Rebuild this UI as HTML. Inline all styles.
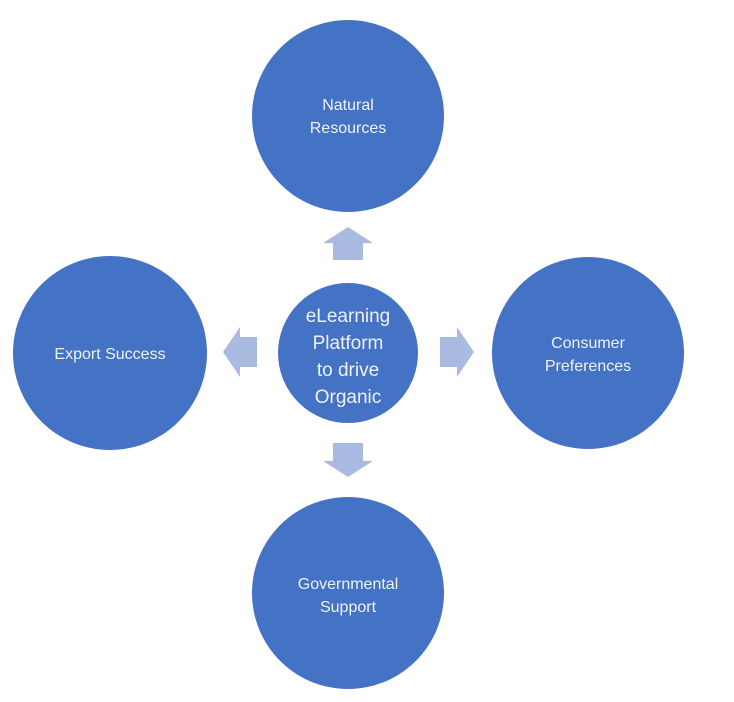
<!DOCTYPE html>
<html><head><style>
html,body{margin:0;padding:0;background:#fff;}
svg{display:block;}
text{font-family:"Liberation Sans",sans-serif;fill:#eef2fa;text-anchor:middle;}
</style></head><body>
<svg width="734" height="702" viewBox="0 0 734 702">
<g fill="#4472C4">
<circle cx="348" cy="116" r="96"/>
<circle cx="110" cy="353" r="97"/>
<circle cx="588" cy="353" r="96"/>
<circle cx="348" cy="593" r="96"/>
<circle cx="348" cy="353" r="71" stroke="#fff" stroke-width="2"/>
</g>
<g fill="#A9BBE0">
<polygon points="348,227 373,243 363,243 363,260 333,260 333,243 323,243"/>
<polygon points="348,477 373,461 363,461 363,443 333,443 333,461 323,461"/>
<polygon points="223,352 240,327 240,337 257,337 257,367 240,367 240,377"/>
<polygon points="474,352 457,327 457,337 440,337 440,367 457,367 457,377"/>
</g>
<g font-size="16">
<text x="348" y="110">Natural</text>
<text x="348" y="133">Resources</text>
<text x="110" y="359">Export Success</text>
<text x="588" y="348">Consumer</text>
<text x="588" y="371">Preferences</text>
<text x="348" y="589">Governmental</text>
<text x="348" y="612">Support</text>
</g>
<g font-size="19">
<text x="348" y="322">eLearning</text>
<text x="348" y="349">Platform</text>
<text x="348" y="376">to drive</text>
<text x="348" y="403">Organic</text>
</g>
</svg>
</body></html>
